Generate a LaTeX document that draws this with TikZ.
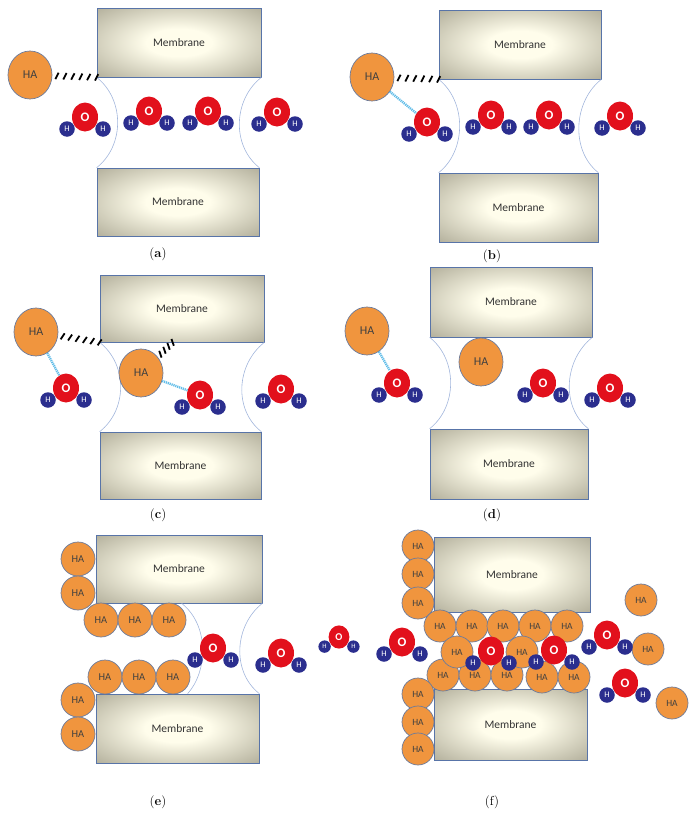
\documentclass[tikz,border=0pt]{standalone}
\usepackage{fontspec}
\newfontfamily\calib{Carlito}
\usetikzlibrary{calc,shapes.geometric}

\definecolor{haorange}{HTML}{F0953E}
\definecolor{haline}{HTML}{6B7B9C}
\definecolor{oxred}{HTML}{E2101C}
\definecolor{hyblue}{HTML}{2B2E8E}
\definecolor{memline}{HTML}{5874A8}
\definecolor{memin}{HTML}{FFFDEB}
\definecolor{memout}{HTML}{88846F}
\definecolor{poreblue}{HTML}{A2B6DC}
\definecolor{bondblue}{HTML}{62BDE8}

\pgfdeclareradialshading{membrane}{\pgfpoint{0bp}{0bp}}{%
  color(0bp)=(memin); color(10bp)=(memin); color(50bp)=(memout)}

\tikzset{
  mem/.style={rectangle, shade, shading=membrane, draw=memline, line width=0.7pt,
    inner sep=0pt, text=black!80, font=\calib\fontsize{11.5}{12}\selectfont},
  pore/.style={draw=poreblue, line width=0.6pt},
  ha/.style={ellipse, draw=haline, fill=haorange, line width=0.7pt, inner sep=0pt,
    minimum width=44pt, minimum height=48pt, text=black!75,
    font=\calib\fontsize{12}{12}\selectfont},
  ha small/.style={ha, minimum width=34pt, minimum height=34pt,
    font=\calib\fontsize{10.5}{11}\selectfont},
  ha tiny/.style={ha, minimum width=32pt, minimum height=32pt,
    font=\calib\fontsize{9.5}{10}\selectfont},
  oxy/.style={ellipse, fill=oxred, inner sep=0pt, minimum width=26pt, minimum height=29pt,
    text=white, font=\calib\bfseries\fontsize{13}{13}\selectfont},
  hyd/.style={circle, fill=hyblue, inner sep=0pt, minimum size=15.5pt, text=white,
    font=\calib\fontsize{8.5}{8.5}\selectfont},
  hbond/.style={draw=bondblue, line width=2.4pt, dash pattern=on 1.2pt off 0.8pt},
  hatch/.style={draw=black, line width=1.8pt},
  caption/.style={font=\fontsize{13}{15}\selectfont}
}

% water: O with its two H below it
\newcommand\water[3][1]{%
  \node[oxy, scale=#1] (#2) at #3 {O};
  \node[hyd, scale=#1] (#2h1) at ($(#2)+(-18*#1,12*#1)$) {H};
  \node[hyd, scale=#1] (#2h2) at ($(#2)+(18*#1,12*#1)$) {H};
}
% curved pore walls between the two membranes of a panel
\newcommand\pores[1]{%
  \draw[pore] (#1-top.south west) .. controls +(28,22) and +(28,-22) .. (#1-bot.north west);
  \draw[pore] (#1-top.south east) .. controls +(-28,22) and +(-28,-22) .. (#1-bot.north east);
}
% hatched bond: #3 gaps between start #1 and end #2
\newcommand\hatchbond[3]{%
  \foreach \k in {0,...,#3}{
    \coordinate (hk) at ($#1!\k/#3!#2$);
    \draw[hatch] ($(hk)+($#1!3.6pt!65:#2$)-#1$) -- ($(hk)-($#1!3.6pt!65:#2$)+#1$);
  }
}

\begin{document}
\begin{tikzpicture}[x=1pt, y=-1pt]
  \draw[opacity=0,line width=0.01pt] (0,0) rectangle (682,813);

  % (a)
  \node[mem, minimum width=164pt, minimum height=69pt] (a-top) at (179,42.5) {Membrane};
  \node[mem, minimum width=162pt, minimum height=68pt] (a-bot) at (178,202) {Membrane};
  \pores{a}
  \node[ha] (a-ha) at (30,75) {HA};
  \coordinate (a-hs) at ($(a-ha)!27pt!(a-top.south west)$);
  \hatchbond{(a-hs)}{(a-top.south west)}{5}
  \water{a-w1}{(85,117)}
  \water{a-w2}{(149,111)}
  \water{a-w3}{(208,111)}
  \water{a-w4}{(277,112)}
  \node[caption] (a-cap) at (158,254) {(\textbf{a})};

  % (b)
  \node[mem, minimum width=162pt, minimum height=69pt] (b-top) at (520,44.5) {Membrane};
  \node[mem, minimum width=159pt, minimum height=69pt] (b-bot) at (518.5,207.5) {Membrane};
  \pores{b}
  \node[ha] (b-ha) at (372,77) {HA};
  \coordinate (b-hs) at ($(b-ha)!27pt!(b-top.south west)$);
  \hatchbond{(b-hs)}{(b-top.south west)}{5}
  \water{b-w1}{(427,122)}
  \water{b-w2}{(491,115)}
  \water{b-w3}{(549,115)}
  \water{b-w4}{(620,116)}
  \draw[hbond] (b-ha) -- (b-w1);
  \node[caption] (b-cap) at (492,256) {(\textbf{b})};

  % (c)
  \node[mem, minimum width=164pt, minimum height=67pt] (c-top) at (182,308.5) {Membrane};
  \node[mem, minimum width=161pt, minimum height=67pt] (c-bot) at (180.5,465.5) {Membrane};
  \pores{c}
  \node[ha] (c-ha1) at (36,332) {HA};
  \node[ha] (c-ha2) at (141,373) {HA};
  \coordinate (c-hs1) at ($(c-ha1)!27pt!(c-top.south west)$);
  \hatchbond{(c-hs1)}{(c-top.south west)}{5}
  \coordinate (c-he2) at ($(c-top.south west)+(73,0)$);
  \coordinate (c-hs2) at ($(c-ha2)!27pt!(c-he2)$);
  \hatchbond{(c-hs2)}{(c-he2)}{3}
  \water{c-w1}{(66,388)}
  \water{c-w2}{(200,395)}
  \water{c-w3}{(281,389)}
  \draw[hbond] (c-ha1) -- (c-w1);
  \draw[hbond] (c-ha2) -- (c-w2);
  \node[caption] (c-cap) at (158,515) {(\textbf{c})};

  % (d)
  \node[mem, minimum width=162pt, minimum height=70pt] (d-top) at (511,302) {Membrane};
  \node[mem, minimum width=158pt, minimum height=70pt] (d-bot) at (509,464) {Membrane};
  \pores{d}
  \node[ha] (d-ha1) at (367,331) {HA};
  \node[ha] (d-ha2) at (481,362) {HA};
  \water{d-w1}{(397,383)}
  \water{d-w2}{(543,383)}
  \water{d-w3}{(610,388)}
  \draw[hbond] (d-ha1) -- (d-w1);
  \node[caption] (d-cap) at (492,515) {(\textbf{d})};

  % (e)
  \node[mem, minimum width=166pt, minimum height=68pt] (e-top) at (179,569) {Membrane};
  \node[mem, minimum width=163pt, minimum height=69pt] (e-bot) at (177.5,728.5) {Membrane};
  \draw[pore] ($(e-top.south west)+(86,0)$) .. controls +(28,22) and +(20,-22) .. ($(e-bot.north west)+(92,0)$);
  \draw[pore] (e-top.south east) .. controls +(-28,22) and +(-28,-22) .. (e-bot.north east);
  \foreach \p [count=\i] in {(78,559),(78,593),(101,620),(135,620),(169,620),
      (105,677),(139,677),(173,677),(78,700),(78,734)}
    \node[ha small] (e-ha\i) at \p {HA};
  \water{e-w1}{(213,648)}
  \water{e-w2}{(281,653)}
  \water[0.8]{e-w3}{(339,637)}
  \node[caption] (e-cap) at (158,802) {(\textbf{e})};

  % (f)
  \node[mem, minimum width=156pt, minimum height=75pt] (f-top) at (512,574.5) {Membrane};
  \node[mem, minimum width=153pt, minimum height=71pt] (f-bot) at (510.5,724.5) {Membrane};
  \foreach \p [count=\i] in {(418,546),(418,574),(418,603),
      (440,626),(472,626),(503,626),(535,626),(567,626),
      (443,675),(475,675),(507,675),(542,677),(574,677),
      (457,652),(522,652),
      (418,694),(418,722),(418,749),
      (641,600),(648,649),(672,703)}
    \node[ha tiny] (f-ha\i) at \p {HA};
  \water{f-w1}{(402,642)}
  \water{f-w2}{(491,651)}
  \water{f-w3}{(554,650)}
  \water{f-w4}{(607,635)}
  \water{f-w5}{(625,683)}
  \node[caption] (f-cap) at (492,802) {(f)};
\end{tikzpicture}
\end{document}
